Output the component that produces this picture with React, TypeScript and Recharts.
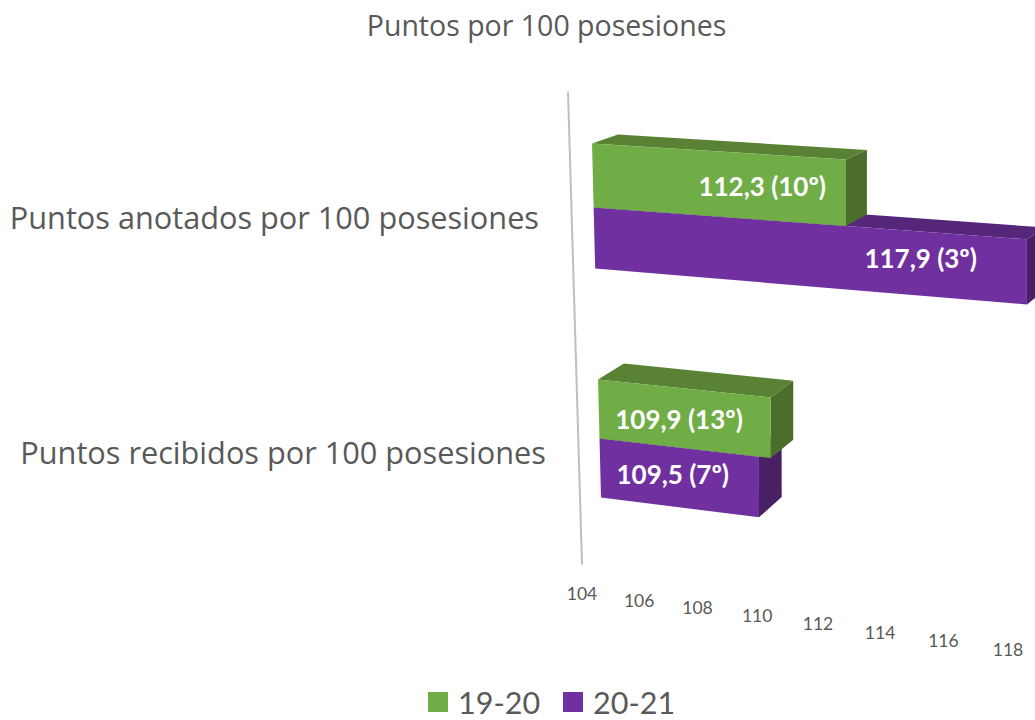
import { BarChart, Bar, XAxis, YAxis, LabelList, ReferenceLine } from 'recharts';

const categories = ['Puntos anotados por 100 posesiones', 'Puntos recibidos por 100 posesiones'];
const values1920 = [112.3, 109.9];
const values2021 = [117.9, 109.5];
const ranks1920 = ['10º', '13º'];
const ranks2021 = ['3º', '7º'];
const axisTicks = [104, 106, 108, 110, 112, 114, 116, 118];

const GREEN = { front: '#70AD47', top: '#5A8235', side: '#4B6E2D' };
const PURPLE = { front: '#7030A0', top: '#55267A', side: '#482063' };

const chartData = categories.map((name, i) => ({
  name,
  s1920: values1920[i],
  s2021: values2021[i],
}));

const PLOT_LEFT = 592;
const UNIT = 30;

// fake Excel's 3D perspective: plot pixels -> picture pixels
const project = (u: number, v: number) => {
  const t = (u - PLOT_LEFT) / UNIT;
  const sx0 = 29.58 * t + 0.123 * t * t;
  const shear = 0.0254 * (v - 143) * Math.max(0, 1 - t / 5.9);
  const slope = 0.063 + (v - 143) * 0.000158;
  return { x: PLOT_LEFT + sx0 + shear, y: v + slope * sx0 };
};

const back = (p: { x: number; y: number }) => ({
  x: p.x + 26 - (p.x - PLOT_LEFT) * 0.02,
  y: p.y - (9 + (p.y - 143) * 0.03),
});

const pts = (list: { x: number; y: number }[]) => list.map(p => `${p.x},${p.y}`).join(' ');

// purple is drawn first so green can sit over it, hence the slot swap
const Box3D = ({ x, y, width, height, colors, slot, index, trimTop, trimBottom }: any) => {
  const top = y + slot * height + trimTop[index];
  const bottom = y + slot * height + height + trimBottom[index];
  const tl = project(x, top);
  const tr = project(x + width, top);
  const br = project(x + width, bottom);
  const bl = project(x, bottom);
  return (
    <g>
      <polygon points={pts([tl, tr, back(tr), back(tl)])} fill={colors.top} />
      <polygon points={pts([tr, br, back(br), back(tr)])} fill={colors.side} />
      <polygon points={pts([tl, tr, br, bl])} fill={colors.front} />
    </g>
  );
};

const BarLabel = ({ x, y, width, height, value, index, slot, ranks, insets, nudges }: any) => {
  const mid = y + slot * height + height / 2;
  const end = project(x + width, mid).x - insets[index];
  const u = x + width - insets[index];
  return (
    <text
      x={end}
      y={project(u - 60, mid).y + nudges[index]}
      textAnchor="end"
      dominantBaseline="central"
      fill="#fff"
      fontFamily="Lato"
      fontWeight={700}
      fontSize={26}
    >
      {`${String(value).replace('.', ',')} (${ranks[index]})`}
    </text>
  );
};

const CategoryTick = ({ y, payload }: any) => (
  <text
    x={539 + (y - 207) * 0.03}
    y={y + 10 + (y - 207) * 0.0173}
    textAnchor="end"
    dominantBaseline="central"
    fill="#595959"
    fontFamily="Open Sans"
    fontSize={30.7}
  >
    {payload.value}
  </text>
);

const ValueTick = ({ payload }: any) => {
  const t = payload.value - 104;
  return (
    <text
      x={582 + 28.26 * t + 0.155 * t * t}
      y={593 + 3.6 * t + 0.03 * t * t}
      textAnchor="middle"
      dominantBaseline="central"
      fill="#595959"
      fontFamily="Lato"
      fontSize={17.5}
    >
      {payload.value}
    </text>
  );
};

const WallLine = ({ x1, y1, y2 }: any) => (
  <line
    x1={x1 - 24}
    y1={Math.min(y1, y2)}
    x2={x1 - 10}
    y2={Math.max(y1, y2) + 11}
    stroke="#BFBFBF"
    strokeWidth={2}
  />
);

const LegendItem = ({ color, label }: { color: string; label: string }) => (
  <span style={{ display: 'flex', alignItems: 'center', gap: 10 }}>
    <span style={{ width: 20, height: 20, background: color }} />
    <span>{label}</span>
  </span>
);

export default function App() {
  return (
    <div style={{ position: 'absolute', left: 0, top: 0, width: 1035, height: 720, background: '#fff', overflow: 'hidden' }}>
      <div
        style={{
          position: 'absolute',
          left: 0,
          width: 1093,
          top: 5,
          textAlign: 'center',
          fontFamily: 'Open Sans',
          fontSize: 28.5,
          lineHeight: '40px',
          color: '#595959',
        }}
      >
        Puntos por 100 posesiones
      </div>
      <BarChart
        width={1035}
        height={720}
        data={chartData}
        layout="vertical"
        barSize={61}
        barGap={0}
        margin={{ top: 91.5, right: 23, left: 0, bottom: 136.5 }}
      >
        <XAxis
          type="number"
          domain={[104, 118]}
          ticks={axisTicks}
          interval={0}
          axisLine={false}
          tickLine={false}
          height={30}
          tick={<ValueTick />}
        />
        <YAxis
          type="category"
          dataKey="name"
          width={592}
          axisLine={false}
          tickLine={false}
          interval={0}
          tick={<CategoryTick />}
        />
        <ReferenceLine x={104} shape={<WallLine />} />
        <Bar
          dataKey="s2021"
          isAnimationActive={false}
          shape={(p: any) => <Box3D {...p} colors={PURPLE} slot={1} trimTop={[0, 0]} trimBottom={[0, -2]} />}
        >
          <LabelList
            dataKey="s2021"
            content={(p: any) => <BarLabel {...p} slot={1} ranks={ranks2021} insets={[50, 30]} nudges={[-5, -4]} />}
          />
        </Bar>
        <Bar
          dataKey="s1920"
          isAnimationActive={false}
          shape={(p: any) => <Box3D {...p} colors={GREEN} slot={-1} trimTop={[-3, 2]} trimBottom={[0, 0]} />}
        >
          <LabelList
            dataKey="s1920"
            content={(p: any) => <BarLabel {...p} slot={-1} ranks={ranks1920} insets={[20, 28]} nudges={[-3, 2]} />}
          />
        </Bar>
      </BarChart>
      <div
        style={{
          position: 'absolute',
          left: 428,
          top: 688,
          height: 28,
          display: 'flex',
          gap: 23,
          fontFamily: 'Lato',
          fontSize: 30.5,
          lineHeight: '28px',
          color: '#595959',
        }}
      >
        <LegendItem color={GREEN.front} label="19-20" />
        <LegendItem color={PURPLE.front} label="20-21" />
      </div>
    </div>
  );
}
